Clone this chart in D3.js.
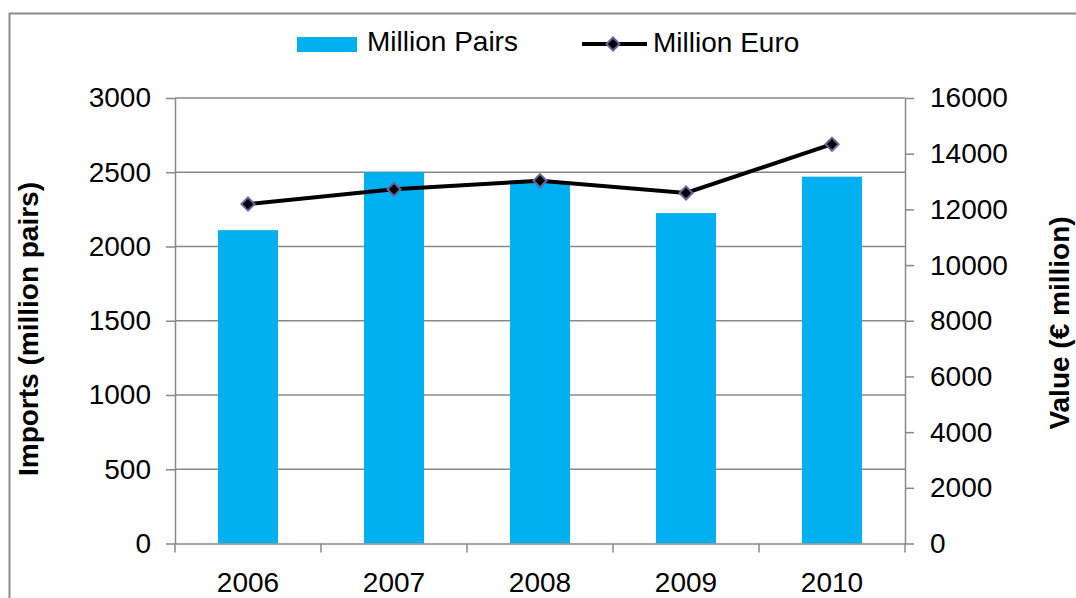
<!DOCTYPE html>
<meta charset="utf-8">
<style>

body {
  margin: 0;
  background-color: white;
  overflow: hidden;
}

text {
  font-family: "Liberation Sans", Arial, sans-serif;
  fill: black;
}

.axis path,
.axis line,
.grid line {
  stroke: #888;
  stroke-width: 1.5px;
}

</style>
<body>

<script src="https://cdn.jsdelivr.net/npm/d3@7"></script>
<script>

var years = ["2006", "2007", "2008", "2009", "2010"];
var millionPairs = [2110, 2500, 2430, 2225, 2470];
var millionEuro = [12190, 12720, 13030, 12590, 14340];
var leftTicks = [0, 500, 1000, 1500, 2000, 2500, 3000];
var rightTicks = [0, 2000, 4000, 6000, 8000, 10000, 12000, 14000, 16000];

var width = 1076,
    height = 598;

// plot area edges (window.top is taken, so prefix them)
var plotLeft = 175, plotRight = 905, plotTop = 98, plotBottom = 543.5;

var svg = d3.select("body").append("svg")
    .attr("width", width)
    .attr("height", height);

// outer chart frame, runs off the right and bottom edge
svg.append("rect")
    .attr("x", 9.5)
    .attr("y", 13.5)
    .attr("width", 1200)
    .attr("height", 800)
    .attr("fill", "none")
    .attr("stroke", "#8c8c8c")
    .attr("stroke-width", 2);

var x = d3.scaleBand()
    .domain(years)
    .range([plotLeft, plotRight]);

var y = d3.scaleLinear()
    .domain([0, 3000])
    .range([plotBottom, plotTop]);

var y2 = d3.scaleLinear()
    .domain([0, 16000])
    .range([plotBottom, plotTop]);

var barWidth = 60;

// horizontal gridlines
svg.append("g")
    .attr("class", "grid")
  .selectAll("line")
    .data(leftTicks.slice(1))
  .enter().append("line")
    .attr("x1", plotLeft)
    .attr("x2", plotRight)
    .attr("y1", function(d) { return y(d); })
    .attr("y2", function(d) { return y(d); });

// bars
svg.append("g")
  .selectAll("rect")
    .data(years)
  .enter().append("rect")
    .attr("x", function(d) { return x(d) + x.bandwidth() / 2 - barWidth / 2; })
    .attr("y", function(d, i) { return y(millionPairs[i]); })
    .attr("width", barWidth)
    .attr("height", function(d, i) { return plotBottom - y(millionPairs[i]); })
    .attr("fill", "#00b0f0");

// left axis
var yAxis = svg.append("g")
    .attr("class", "axis")
    .attr("transform", "translate(" + plotLeft + ",0)")
    .call(d3.axisLeft(y).tickValues(leftTicks).tickFormat(d3.format("d"))
      .tickSize(9).tickPadding(15).tickSizeOuter(0));
yAxis.selectAll("text").style("font-size", "28px");

// right axis
var y2Axis = svg.append("g")
    .attr("class", "axis")
    .attr("transform", "translate(" + plotRight + ",0)")
    .call(d3.axisRight(y2).tickValues(rightTicks).tickFormat(d3.format("d"))
      .tickSize(9).tickPadding(16).tickSizeOuter(0));
y2Axis.selectAll("text").style("font-size", "28px");

// bottom axis: labels centred under bars, ticks on category boundaries
var xAxis = svg.append("g")
    .attr("class", "axis")
    .attr("transform", "translate(0," + plotBottom + ")")
    .call(d3.axisBottom(x).tickSize(0).tickPadding(29).tickSizeOuter(0));
xAxis.selectAll("text").style("font-size", "28px");

var bounds = years.map(function(d) { return x(d); }).concat([plotRight]);
xAxis.selectAll(".bound")
    .data(bounds)
  .enter().append("line")
    .attr("class", "bound")
    .attr("x1", function(d) { return d; })
    .attr("x2", function(d) { return d; })
    .attr("y1", 0)
    .attr("y2", 9);

// euro line
var line = d3.line()
    .x(function(d, i) { return x(years[i]) + x.bandwidth() / 2; })
    .y(function(d) { return y2(d); });

svg.append("path")
    .datum(millionEuro)
    .attr("d", line)
    .attr("fill", "none")
    .attr("stroke", "black")
    .attr("stroke-width", 4);

var diamond = d3.symbol().type(d3.symbolDiamond2).size(110);

svg.append("g")
  .selectAll("path")
    .data(millionEuro)
  .enter().append("path")
    .attr("d", diamond)
    .attr("transform", function(d, i) {
      return "translate(" + (x(years[i]) + x.bandwidth() / 2) + "," + y2(d) + ")";
    })
    .attr("fill", "black")
    .attr("stroke", "#65669c")
    .attr("stroke-width", 2);

// axis titles
svg.append("text")
    .attr("transform", "translate(38,329) rotate(-90)")
    .attr("text-anchor", "middle")
    .style("font-size", "28px")
    .style("font-weight", "bold")
    .text("Imports (million pairs)");

svg.append("text")
    .attr("transform", "translate(1069,323) rotate(-90)")
    .attr("text-anchor", "middle")
    .style("font-size", "28px")
    .style("font-weight", "bold")
    .text("Value (€ million)");

// legend
var legend = svg.append("g");

legend.append("rect")
    .attr("x", 297)
    .attr("y", 37)
    .attr("width", 60)
    .attr("height", 15)
    .attr("fill", "#00b0f0");

legend.append("text")
    .attr("x", 367)
    .attr("y", 51)
    .style("font-size", "28px")
    .text("Million Pairs");

legend.append("line")
    .attr("x1", 582)
    .attr("x2", 647)
    .attr("y1", 44)
    .attr("y2", 44)
    .attr("stroke", "black")
    .attr("stroke-width", 4);

legend.append("path")
    .attr("d", diamond)
    .attr("transform", "translate(613,44)")
    .attr("fill", "black")
    .attr("stroke", "#65669c")
    .attr("stroke-width", 2);

legend.append("text")
    .attr("x", 653)
    .attr("y", 52)
    .style("font-size", "28px")
    .text("Million Euro");

</script>
